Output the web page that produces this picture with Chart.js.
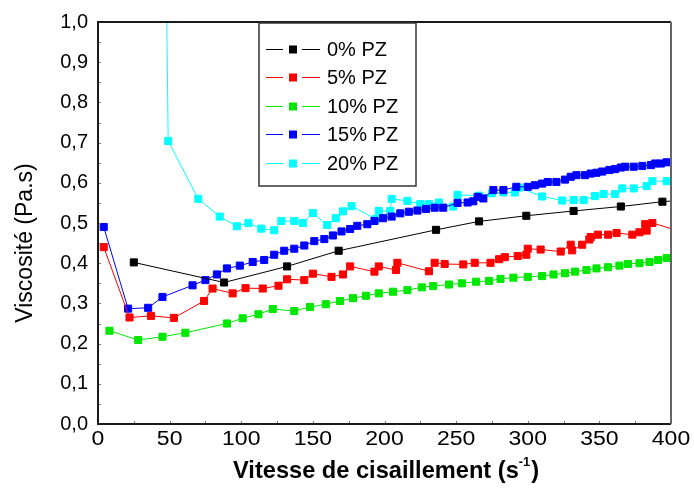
<!DOCTYPE html>
<html>
<head>
<meta charset="utf-8">
<script src="https://cdn.jsdelivr.net/npm/chart.js@4"></script>
<style>
  html, body { margin: 0; padding: 0; background: #fff; }
  #wrap { width: 694px; height: 490px; }
</style>
</head>
<body>
<div id="wrap"><canvas id="viscChart" width="694" height="490"></canvas></div>
<script>
// tick labels
const xTicks = [0, 50, 100, 150, 200, 250, 300, 350, 400];
const yTickLabels = ['0,0', '0,1', '0,2', '0,3', '0,4', '0,5', '0,6', '0,7', '0,8', '0,9', '1,0'];

// series names
const seriesNames = ['0% PZ', '5% PZ', '10% PZ', '15% PZ', '20% PZ'];

// 0% PZ
const pz0X = [25, 88, 132, 168, 236, 266, 299, 332, 365, 394, 420];
const pz0Y = [0.402, 0.352, 0.392, 0.431, 0.483, 0.504, 0.518, 0.530, 0.541, 0.553, 0.560];

// 5% PZ
const pz5X = [4, 22, 37, 53, 74, 80, 94, 103, 115, 126, 132, 144, 150, 163, 171, 176, 193, 196, 208, 209,
  231, 235, 242, 255, 263, 274, 280, 284, 293, 299, 300, 309, 323, 330, 331, 338, 343, 344, 349, 356,
  362, 373, 378, 383, 382, 387, 420];
const pz5Y = [0.440, 0.265, 0.269, 0.264, 0.306, 0.337, 0.325, 0.338, 0.337, 0.344, 0.360, 0.358, 0.374, 0.366, 0.372, 0.392, 0.379, 0.392, 0.383, 0.401,
  0.380, 0.401, 0.398, 0.397, 0.401, 0.401, 0.410, 0.415, 0.418, 0.421, 0.436, 0.434, 0.429, 0.446, 0.432, 0.446, 0.459, 0.465, 0.471, 0.471,
  0.475, 0.471, 0.477, 0.481, 0.497, 0.500, 0.465];

// 10% PZ
const pz10X = [8, 28, 45, 61, 90, 101, 112, 122, 137, 148, 159, 169, 178, 187, 196, 206, 216, 226, 234, 245,
  254, 264, 273, 281, 290, 300, 310, 318, 326, 333, 341, 348, 356, 364, 370, 378, 385, 391, 397];
const pz10Y = [0.232, 0.209, 0.217, 0.227, 0.250, 0.263, 0.273, 0.286, 0.281, 0.291, 0.298, 0.306, 0.313, 0.319, 0.325, 0.329, 0.333, 0.340, 0.343, 0.347,
  0.350, 0.354, 0.356, 0.361, 0.364, 0.366, 0.368, 0.372, 0.375, 0.379, 0.383, 0.387, 0.390, 0.394, 0.398, 0.400, 0.403, 0.408, 0.413];

// 15% PZ
const pz15X = [4, 21, 35, 45, 66, 75, 83, 90, 99, 108, 116, 123, 130, 137, 144, 151, 158, 164, 170, 176,
  181, 188, 193, 199, 205, 211, 217, 223, 229, 235, 241, 251, 258, 262, 265, 269, 276, 283, 292, 300,
  305, 310, 314, 320, 326, 330, 334, 340, 344, 348, 352, 357, 361, 365, 368, 374, 380, 386, 389, 393, 397];
const pz15Y = [0.490, 0.287, 0.289, 0.316, 0.345, 0.358, 0.372, 0.387, 0.394, 0.403, 0.408, 0.421, 0.431, 0.436, 0.444, 0.455, 0.460, 0.469, 0.479, 0.485,
  0.493, 0.497, 0.505, 0.512, 0.516, 0.524, 0.528, 0.531, 0.535, 0.538, 0.538, 0.550, 0.551, 0.554, 0.565, 0.561, 0.582, 0.582, 0.590, 0.590,
  0.594, 0.598, 0.602, 0.602, 0.608, 0.615, 0.619, 0.619, 0.623, 0.625, 0.628, 0.632, 0.634, 0.638, 0.640, 0.640, 0.642, 0.644, 0.648, 0.648, 0.651];

// 20% PZ
const pz20X = [47, 49, 70, 85, 97, 105, 114, 123, 128, 137, 143, 150, 160, 166, 171, 177, 194, 196, 204, 205,
  216, 225, 231, 238, 248, 251, 266, 275, 283, 291, 294, 310, 324, 332, 339, 347, 353, 361, 366, 374, 383, 387, 397];
const pz20Y = [1.300, 0.704, 0.560, 0.516, 0.492, 0.500, 0.486, 0.482, 0.505, 0.505, 0.500, 0.525, 0.495, 0.512, 0.529, 0.542, 0.510, 0.530, 0.530, 0.560,
  0.555, 0.547, 0.547, 0.551, 0.541, 0.570, 0.568, 0.574, 0.576, 0.576, 0.588, 0.566, 0.556, 0.557, 0.557, 0.567, 0.572, 0.572, 0.586, 0.586, 0.592, 0.604, 0.604];

const seriesColors = ['#000000', '#ff0000', '#00e800', '#0000ff', '#00ffff'];
const seriesX = [pz0X, pz5X, pz10X, pz15X, pz20X];
const seriesY = [pz0Y, pz5Y, pz10Y, pz15Y, pz20Y];

const datasets = seriesNames.map((name, i) => ({
  label: name,
  data: seriesX[i].map((x, j) => ({ x: x, y: seriesY[i][j] })),
  showLine: true,
  borderColor: seriesColors[i],
  backgroundColor: seriesColors[i],
  borderWidth: 1,
  pointStyle: 'rect',
  pointRadius: 5,
  pointBorderWidth: 1,
  pointHoverRadius: 5
}));

const sansFont = '"Liberation Sans", Arial, sans-serif';

// draw text squeezed/stretched horizontally to a given factor
function drawScaledText(ctx, text, x, y, sx) {
  ctx.save();
  ctx.translate(x, y);
  ctx.scale(sx, 1);
  ctx.fillText(text, 0, 0);
  ctx.restore();
}

// frame, inward ticks, x tick labels, axis titles and legend box
const decorations = {
  id: 'decorations',
  afterDraw(chart) {
    const ctx = chart.ctx;
    const a = chart.chartArea;
    const xs = chart.scales.x, ys = chart.scales.y;
    ctx.save();

    // little inward ticks
    ctx.strokeStyle = '#777';
    ctx.lineWidth = 1;
    for (let v = 25; v < 400; v += 25) {
      const px = Math.round(xs.getPixelForValue(v)) + 0.5;
      ctx.beginPath(); ctx.moveTo(px, a.bottom); ctx.lineTo(px, a.bottom - 3); ctx.stroke();
    }
    for (let k = 1; k < 20; k++) {
      const py = Math.round(ys.getPixelForValue(k * 0.05)) + 0.5;
      ctx.beginPath(); ctx.moveTo(a.left, py); ctx.lineTo(a.left + 3, py); ctx.stroke();
    }

    // frame
    ctx.strokeStyle = '#1a1a1a';
    ctx.lineWidth = 2;
    ctx.beginPath();
    ctx.moveTo(a.right, a.top); ctx.lineTo(a.left, a.top); ctx.lineTo(a.left, a.bottom); ctx.lineTo(a.right, a.bottom);
    ctx.stroke();
    ctx.strokeStyle = '#666';
    ctx.beginPath(); ctx.moveTo(a.right, a.top); ctx.lineTo(a.right, a.bottom); ctx.stroke();

    // x tick labels (slightly wide face)
    ctx.fillStyle = '#000';
    ctx.font = '20px ' + sansFont;
    ctx.textAlign = 'center';
    ctx.textBaseline = 'middle';
    xTicks.forEach(v => {
      drawScaledText(ctx, String(v), xs.getPixelForValue(v), a.bottom + 15, 1.15);
    });

    // y title
    ctx.font = '23px ' + sansFont;
    ctx.translate(26, 243);
    ctx.rotate(-Math.PI / 2);
    ctx.fillText('Viscosité (Pa.s)', 0, 0);
    ctx.setTransform(1, 0, 0, 1, 0, 0);

    // x title with superscript, fitted to the reference width
    const main = 'Vitesse de cisaillement (s';
    const sup = '-1';
    const tail = ')';
    const bigFont = 'bold 24px ' + sansFont;
    const supFont = 'bold 13px ' + sansFont;
    ctx.font = bigFont;
    const w1 = ctx.measureText(main).width;
    const w3 = ctx.measureText(tail).width;
    ctx.font = supFont;
    const w2 = ctx.measureText(sup).width + 1;
    const total = w1 + w2 + w3;
    const sx = 306 / total;
    ctx.translate(386 - 153, 478);
    ctx.scale(sx, 1);
    ctx.textAlign = 'left';
    ctx.textBaseline = 'alphabetic';
    ctx.font = bigFont;
    ctx.fillText(main, 0, 0);
    ctx.font = supFont;
    ctx.fillText(sup, w1, -12);
    ctx.font = bigFont;
    ctx.fillText(tail, w1 + w2, 0);
    ctx.setTransform(1, 0, 0, 1, 0, 0);

    // legend
    ctx.fillStyle = '#fff';
    ctx.fillRect(259, 23, 157, 163);
    ctx.strokeStyle = '#333';
    ctx.lineWidth = 1.5;
    ctx.strokeRect(259, 23, 157, 163);
    ctx.font = '20px ' + sansFont;
    ctx.textBaseline = 'middle';
    seriesNames.forEach((name, i) => {
      const y = Math.round(49 + i * 28.4) + 0.5;
      ctx.strokeStyle = seriesColors[i];
      ctx.lineWidth = 1;
      ctx.beginPath(); ctx.moveTo(266, y); ctx.lineTo(283, y); ctx.stroke();
      ctx.beginPath(); ctx.moveTo(302, y); ctx.lineTo(320, y); ctx.stroke();
      ctx.fillStyle = seriesColors[i];
      ctx.fillRect(289, y - 4, 8, 8);
      ctx.fillStyle = '#000';
      ctx.fillText(name, 327, y + 1);
    });
    ctx.restore();
  }
};

const ctx1 = document.getElementById('viscChart').getContext('2d');
const viscChart = new Chart(ctx1, {
  type: 'scatter',
  data: { datasets: datasets },
  options: {
    responsive: false,
    animation: false,
    events: [],
    layout: { padding: { top: 19, right: 23, left: 0, bottom: 0 } },
    plugins: {
      legend: { display: false },
      tooltip: { enabled: false }
    },
    scales: {
      x: {
        type: 'linear',
        min: 0,
        max: 400,
        afterFit: s => { s.height = 66; },
        afterBuildTicks: s => { s.ticks = xTicks.map(v => ({ value: v })); },
        grid: { display: false, drawTicks: false },
        border: { display: false },
        ticks: { display: false }
      },
      y: {
        min: 0,
        max: 1,
        afterFit: s => { s.width = 98; },
        afterBuildTicks: s => { s.ticks = yTickLabels.map((t, i) => ({ value: i / 10 })); },
        grid: { display: false, drawTicks: false },
        border: { display: false },
        ticks: {
          color: '#000',
          padding: 10,
          font: { family: sansFont, size: 20 },
          callback: (v, i) => yTickLabels[Math.round(v * 10)]
        }
      }
    }
  },
  plugins: [decorations]
});
</script>
</body>
</html>
